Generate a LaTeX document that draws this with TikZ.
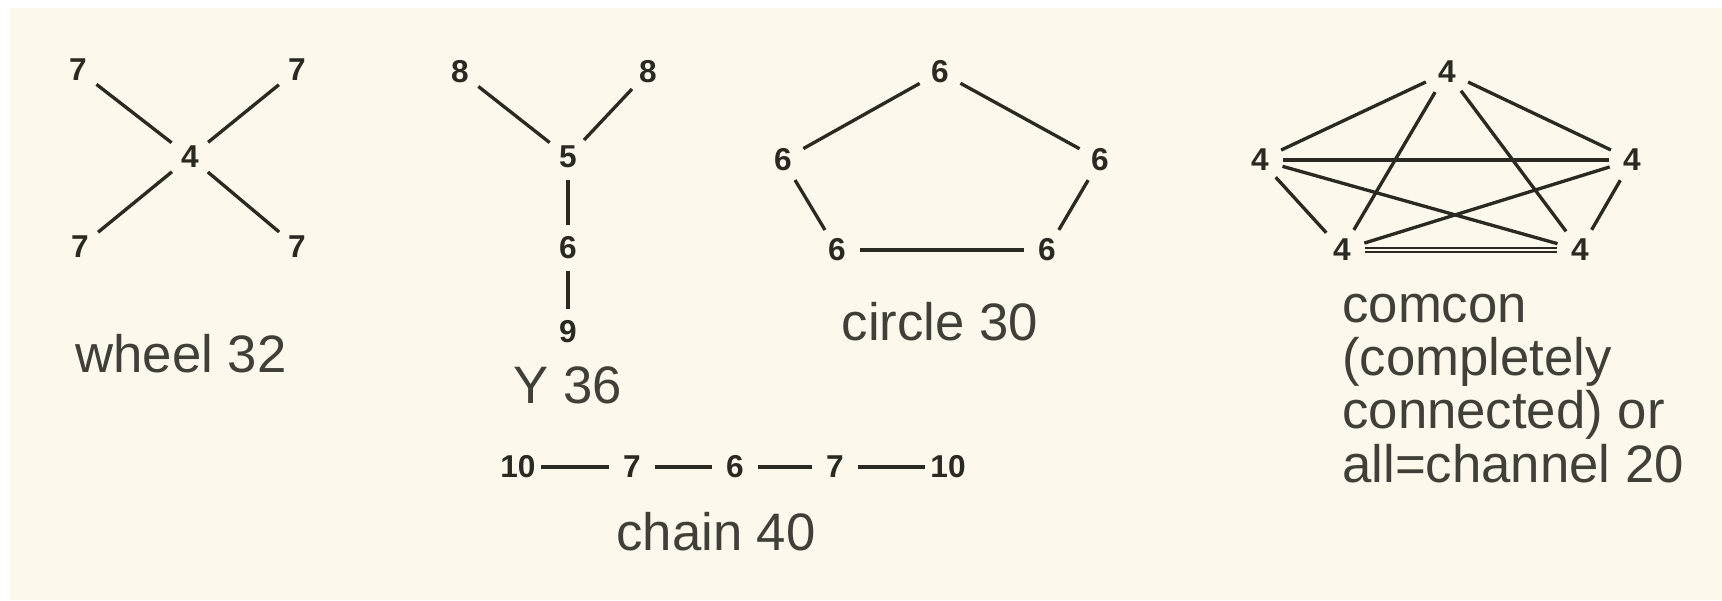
\documentclass[tikz,border=0pt]{standalone}
\usepackage{fontspec}
\setmainfont{Liberation Sans}
\definecolor{paper}{HTML}{FDF8EC}
\definecolor{ink}{HTML}{2B2A22}

\begin{document}
\begin{tikzpicture}[x=0.02cm, y=-0.02cm,
		num/.style={circle, inner sep=0pt, minimum size=0.92cm, text=ink, font=\fontsize{18}{18}\selectfont\bfseries},
		caption/.style={inner sep=0pt, text=ink!90, font=\fontsize{30}{30.2}\selectfont},
		link/.style={draw=ink, line width=1.9pt}]
			\useasboundingbox (0,0) rectangle (1722,600);
			\fill[paper] (10,8) rectangle (1722,600);
			
			% wheel
			\node[num] (w0) at (190,157) {4};
			\node[num] (w1) at (78,70) {7};
			\node[num] (w2) at (297,70) {7};
			\node[num] (w3) at (80,247) {7};
			\node[num] (w4) at (297,247) {7};
			\node[caption, anchor=base] (wcap) at (181,372) {wheel 32};
			
			\draw[link] (w0) -- (w1);
			\draw[link] (w0) -- (w2);
			\draw[link] (w0) -- (w3);
			\draw[link] (w0) -- (w4);
			
			% Y
			\node[num] (y1) at (460,72) {8};
			\node[num] (y2) at (648,72) {8};
			\node[num] (y3) at (568,157) {5};
			\node[num] (y4) at (568,248) {6};
			\node[num] (y5) at (568,332) {9};
			\node[caption, anchor=base] (ycap) at (568,403) {Y 36};
			
			\draw[link] (y1) -- (y3);
			\draw[link] (y2) -- (y3);
			\draw[link] (y3) -- (y4);
			\draw[link] (y4) -- (y5);
			
			% circle
			\node[num] (c1) at (940,72) {6};
			\node[num] (c2) at (1100,160) {6};
			\node[num] (c3) at (1047,250) {6};
			\node[num] (c4) at (837,250) {6};
			\node[num] (c5) at (783,160) {6};
			\node[caption, anchor=base] (ccap) at (940,340) {circle 30};
			
			\draw[link] (c1) -- (c2);
			\draw[link] (c2) -- (c3);
			\draw[link] (c3) -- (c4);
			\draw[link] (c4) -- (c5);
			\draw[link] (c5) -- (c1);
			
			% chain
			\node[num] (h1) at (518,467) {10};
			\node[num] (h2) at (632,467) {7};
			\node[num] (h3) at (735,467) {6};
			\node[num] (h4) at (835,467) {7};
			\node[num] (h5) at (948,467) {10};
			\node[caption, anchor=base] (hcap) at (716,550) {chain 40};
			
			\draw[link] (h1) -- (h2);
			\draw[link] (h2) -- (h3);
			\draw[link] (h3) -- (h4);
			\draw[link] (h4) -- (h5);
			
			% comcon
			\node[num] (k1) at (1447,72) {4};
			\node[num] (k2) at (1632,160) {4};
			\node[num] (k3) at (1580,250) {4};
			\node[num] (k4) at (1342,250) {4};
			\node[num] (k5) at (1260,160) {4};
			\node[caption, anchor=base west, align=left] (kcap) at (1342,482) {comcon\\(completely\\connected) or\\all=channel 20};
			
			\draw[link] (k1) -- (k2);
			\draw[link] (k1) -- (k3);
			\draw[link] (k1) -- (k4);
			\draw[link] (k1) -- (k5);
			\draw[link] (k2) -- (k3);
			\draw[link] (k2) -- (k4);
			\draw[link] (k2) -- (k5);
			\draw[link] (k3) -- (k5);
			\draw[link, line width=1.1pt, double=paper, double distance=1.2pt] (k3) -- (k4);
			\draw[link] (k4) -- (k5);
		\end{tikzpicture}
\end{document}
